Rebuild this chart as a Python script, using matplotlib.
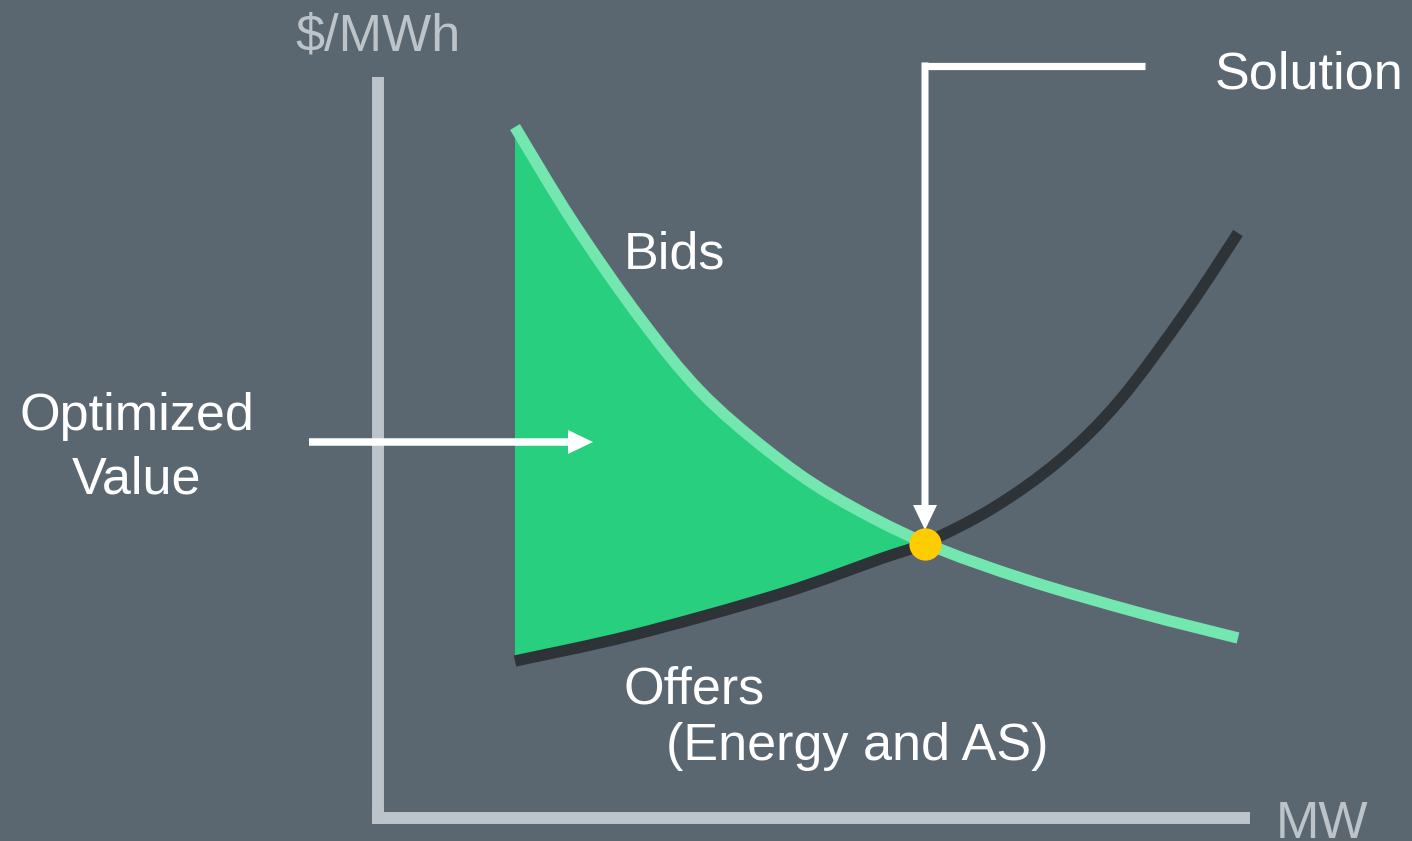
import numpy as np
import matplotlib
matplotlib.use('Agg')
import matplotlib.pyplot as plt
from matplotlib.path import Path
from matplotlib.patches import PathPatch

plt.rcParams['font.family'] = ['Liberation Sans', 'DejaVu Sans']

# curves (x = MW, y = $/MWh, arbitrary units, origin at axis corner)
bid_mw = [137, 195, 262, 322, 389, 455, 547, 649, 762, 860]
bid_price = [691, 596, 500, 427, 368, 322, 275, 238, 205, 180]
offer_mw = [137, 255, 402, 502, 547, 615, 682, 742, 809, 860]
offer_price = [157, 183, 224, 259, 275, 310, 358, 418, 508, 585]
solution_mw = 547
solution_price = 274

bg = '#5b6770'
axis_col = '#bcc3c9'
bid_col = '#74e6b0'
offer_col = '#2e3338'
fill_col = '#27cf7e'
dot_col = '#ffcc00'


def smooth_path(xs, ys):
    # cubic bezier segments through the points (catmull-rom tangents)
    pts = np.column_stack([xs, ys]).astype(float)
    verts = [pts[0]]
    codes = [Path.MOVETO]
    n = len(pts)
    for i in range(n - 1):
        p0 = pts[max(i - 1, 0)]
        p1 = pts[i]
        p2 = pts[i + 1]
        p3 = pts[min(i + 2, n - 1)]
        verts += [p1 + (p2 - p0) / 6, p2 - (p3 - p1) / 6, p2]
        codes += [Path.CURVE4] * 3
    return verts, codes


fig = plt.figure(figsize=(14.12, 8.41), dpi=100)
fig.patch.set_facecolor(bg)
ax = fig.add_axes([0, 0, 1, 1])
ax.set_facecolor(bg)
ax.set_xlim(-378, 1412 - 378)
ax.set_ylim(818 - 841, 818)
ax.axis('off')

# axes lines
ax.plot([0, 0], [-6, 741], color=axis_col, lw=8.6, solid_capstyle='butt')
ax.plot([-6, 872], [0, 0], color=axis_col, lw=8.6, solid_capstyle='butt')

# optimized value area between bids and offers up to the solution
bid_mw = np.array(bid_mw)
bid_price = np.array(bid_price)
offer_mw = np.array(offer_mw)
offer_price = np.array(offer_price)
bm = bid_mw <= solution_mw
om = offer_mw <= solution_mw
v1, c1 = smooth_path(bid_mw[bm], bid_price[bm])
v2, c2 = smooth_path(offer_mw[om][::-1], offer_price[om][::-1])
c2[0] = Path.LINETO
fill_verts = v1 + v2 + [v1[0]]
fill_codes = c1 + c2 + [Path.CLOSEPOLY]
ax.add_patch(PathPatch(Path(fill_verts, fill_codes), facecolor=fill_col, lw=0, zorder=2))

v, c = smooth_path(offer_mw, offer_price)
ax.add_patch(PathPatch(Path(v, c), facecolor='none', edgecolor=offer_col, lw=8.2,
                       capstyle='butt', zorder=3))
v, c = smooth_path(bid_mw, bid_price)
ax.add_patch(PathPatch(Path(v, c), facecolor='none', edgecolor=bid_col, lw=8.2,
                       capstyle='butt', zorder=4))
ax.scatter([solution_mw], [solution_price], s=540, color=dot_col, zorder=6, lw=0)

# solution pointer
ax.plot([767, solution_mw - 3.5], [752, 752], color='white', lw=5.2, solid_capstyle='butt', zorder=5)
ax.arrow(solution_mw, 755.5, 0, -(755.5 - 288) + 25, width=7, head_width=24, head_length=25,
         color='white', lw=0, zorder=5)

# optimized value arrow
ax.arrow(-69, 376, 284 - 25, 0, width=7.5, head_width=24, head_length=25,
         color='white', lw=0, zorder=5)

fs = 37.5
ax.text(0, 818 - 50, '$/MWh', color=axis_col, fontsize=fs, ha='center', va='baseline')
ax.text(1276 - 378, 818 - 838, 'MW', color=axis_col, fontsize=fs, ha='left', va='baseline')
ax.text(1215 - 378, 818 - 88, 'Solution', color='white', fontsize=fs, ha='left', va='baseline')
ax.text(624 - 378, 818 - 268, 'Bids', color='white', fontsize=fs, ha='left', va='baseline')
ax.text(137 - 378, 818 - 430, 'Optimized', color='white', fontsize=fs, ha='center', va='baseline')
ax.text(137 - 378, 818 - 493, 'Value', color='white', fontsize=fs, ha='center', va='baseline')
ax.text(624 - 378, 818 - 703, 'Offers', color='white', fontsize=fs, ha='left', va='baseline')
ax.text(666 - 378, 818 - 760, '(Energy and AS)', color='white', fontsize=fs, ha='left', va='baseline')

fig.savefig('out.png', dpi=100, facecolor=bg)
